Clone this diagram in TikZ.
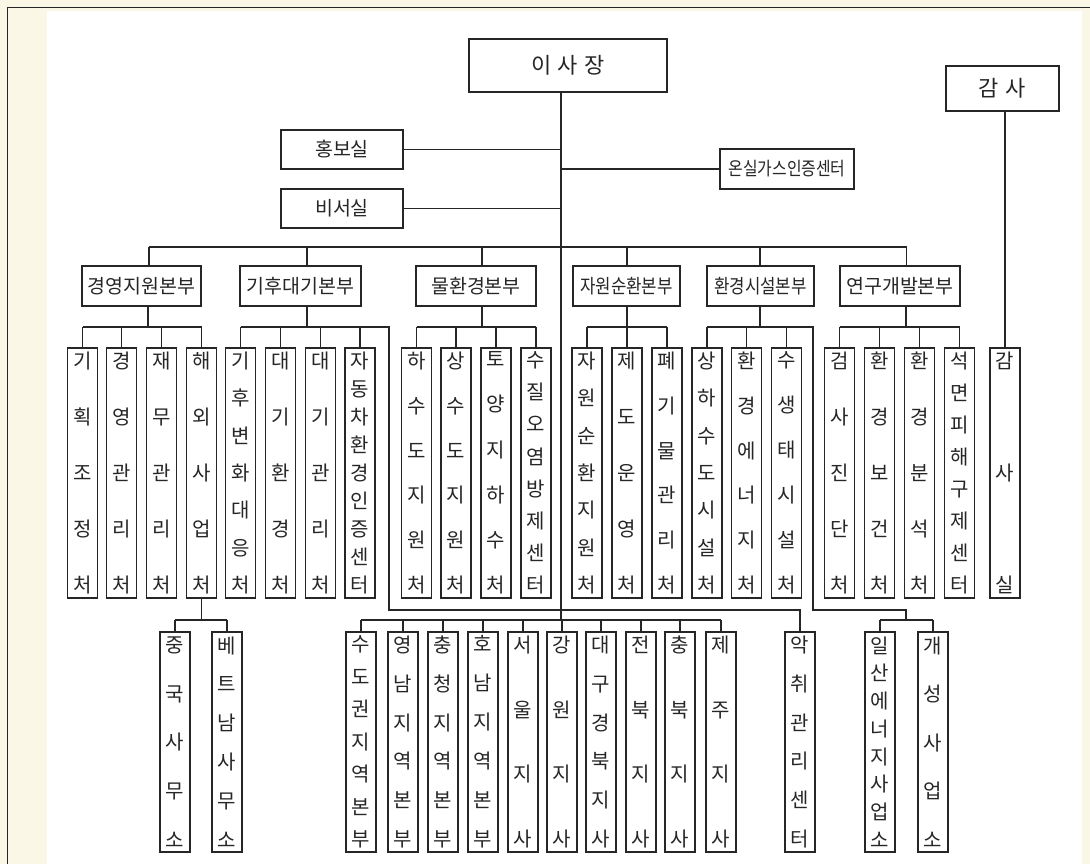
\documentclass[tikz,border=0pt]{standalone}
\usepackage{fontspec}
\setmainfont{Noto Sans CJK KR}
\newfontfamily\narrowkr[FakeStretch=0.86]{Noto Sans CJK KR}
\usetikzlibrary{calc}
\definecolor{cream}{HTML}{FBF7E7}
\definecolor{ink}{HTML}{262626}
\newcommand\kgap{\par\vfill}
\newcommand\vt[2]{\parbox[c][#1][s]{30pt}{\centering #2}}
\begin{document}
\begin{tikzpicture}[x=1pt,y=-1pt,
  box/.style={draw=ink, line width=1.1pt, inner sep=0pt, text=ink, font=\fontsize{19.5}{21}\selectfont},
  hq/.style={box, minimum height=40pt},
  sub/.style={box, minimum width=27pt, minimum height=250pt, font=\fontsize{20}{20}\selectfont},
  low/.style={box, minimum width=27pt, minimum height=220pt, font=\fontsize{20}{20}\selectfont},
  wire/.style={draw=ink, line width=1.1pt}]
\useasboundingbox (0,0) rectangle (1090,864);
\fill[cream] (0,0) rectangle (1090,864);
\fill[white] (47,11.5) rectangle (1082,864);
\draw[ink, line width=1.2pt] (7.3,864) -- (7.3,7.3) -- (1090,7.3);

% top level
\node[box, minimum width=198pt, minimum height=53pt, font=\fontsize{22}{24}\selectfont] (ceo) at (568,65.5) {이\hspace{0.3em}사\hspace{0.3em}장};
\coordinate (mainbot) at (561,620);
\draw[wire] (ceo.south -| mainbot) -- (mainbot);

\node[box, minimum width=122pt, minimum height=39pt] (hongbo) at (342,149.5) {홍보실};
\node[box, minimum width=122pt, minimum height=39pt] (biseo) at (342,208.5) {비서실};
\node[box, minimum width=134pt, minimum height=40pt, font=\narrowkr\fontsize{18.5}{20}\selectfont] (onsil) at (787,169) {온실가스인증센터};
\draw[wire] (hongbo.east) -- (hongbo.east -| mainbot);
\draw[wire] (biseo.east) -- (biseo.east -| mainbot);
\draw[wire] (onsil.west -| mainbot) -- (onsil.west);

\node[box, minimum width=113pt, minimum height=45pt, font=\fontsize{22}{24}\selectfont] (gamsa) at (1002.5,88.5) {감\hspace{0.3em}사};

% headquarters
\node[hq, minimum width=119pt] (gy) at (141.5,286) {경영지원본부};
\node[hq, minimum width=121pt] (gh) at (300.5,286) {기후대기본부};
\node[hq, minimum width=120pt] (mh) at (476,286) {물환경본부};
\node[hq, minimum width=107pt, font=\narrowkr\fontsize{19.5}{21}\selectfont] (jw) at (626.5,286) {자원순환본부};
\node[hq, minimum width=107pt, font=\narrowkr\fontsize{19.5}{21}\selectfont] (hs) at (760.5,286) {환경시설본부};
\node[hq, minimum width=120pt] (yg) at (900,286) {연구개발본부};

\coordinate (busL) at (149,247);
\coordinate (busR) at (906.5,247);
\draw[wire] (busL) -- (busR);
\coordinate (dgy) at (149,247);
\coordinate (dgh) at (307,247);
\coordinate (dmh) at (482,247);
\coordinate (djw) at (627,247);
\coordinate (dhs) at (760,247);
\coordinate (dyg) at (906.5,247);
\foreach \d/\n in {dgy/gy,dgh/gh,dmh/mh,djw/jw,dhs/hs,dyg/yg}
  \draw[wire] (\d) -- (\d |- \n.north);

% second level
\node[sub] (a1) at (82.5,473) {\vt{241pt}{기\kgap 획\kgap 조\kgap 정\kgap 처}};
\node[sub] (a2) at (121.5,473) {\vt{241pt}{경\kgap 영\kgap 관\kgap 리\kgap 처}};
\node[sub] (a3) at (161.5,473) {\vt{241pt}{재\kgap 무\kgap 관\kgap 리\kgap 처}};
\node[sub] (a4) at (201.5,473) {\vt{241pt}{해\kgap 외\kgap 사\kgap 업\kgap 처}};

\node[sub] (b1) at (240.5,473) {\vt{241pt}{기\kgap 후\kgap 변\kgap 화\kgap 대\kgap 응\kgap 처}};
\node[sub] (b2) at (280.5,473) {\vt{241pt}{대\kgap 기\kgap 환\kgap 경\kgap 처}};
\node[sub] (b3) at (320.5,473) {\vt{241pt}{대\kgap 기\kgap 관\kgap 리\kgap 처}};
\node[sub] (b4) at (360,473) {\vt{241pt}{자\kgap 동\kgap 차\kgap 환\kgap 경\kgap 인\kgap 증\kgap 센\kgap 터}};

\node[sub] (c1) at (416.5,473) {\vt{241pt}{하\kgap 수\kgap 도\kgap 지\kgap 원\kgap 처}};
\node[sub] (c2) at (456,473) {\vt{241pt}{상\kgap 수\kgap 도\kgap 지\kgap 원\kgap 처}};
\node[sub] (c3) at (496,473) {\vt{241pt}{토\kgap 양\kgap 지\kgap 하\kgap 수\kgap 처}};
\node[sub] (c4) at (536,473) {\vt{241pt}{수\kgap 질\kgap 오\kgap 염\kgap 방\kgap 제\kgap 센\kgap 터}};

\node[sub] (d1) at (587,473) {\vt{241pt}{자\kgap 원\kgap 순\kgap 환\kgap 지\kgap 원\kgap 처}};
\node[sub] (d2) at (627,473) {\vt{241pt}{제\kgap 도\kgap 운\kgap 영\kgap 처}};
\node[sub] (d3) at (667,473) {\vt{241pt}{폐\kgap 기\kgap 물\kgap 관\kgap 리\kgap 처}};

\node[sub] (e1) at (707,473) {\vt{241pt}{상\kgap 하\kgap 수\kgap 도\kgap 시\kgap 설\kgap 처}};
\node[sub] (e2) at (746.5,473) {\vt{241pt}{환\kgap 경\kgap 에\kgap 너\kgap 지\kgap 처}};
\node[sub] (e3) at (786.5,473) {\vt{241pt}{수\kgap 생\kgap 태\kgap 시\kgap 설\kgap 처}};

\node[sub] (g1) at (839.5,473) {\vt{241pt}{검\kgap 사\kgap 진\kgap 단\kgap 처}};
\node[sub] (g2) at (879.5,473) {\vt{241pt}{환\kgap 경\kgap 보\kgap 건\kgap 처}};
\node[sub] (g3) at (919.5,473) {\vt{241pt}{환\kgap 경\kgap 분\kgap 석\kgap 처}};
\node[sub] (g4) at (959.5,473) {\vt{241pt}{석\kgap 면\kgap 피\kgap 해\kgap 구\kgap 제\kgap 센\kgap 터}};

\node[sub] (gs) at (1005,473) {\vt{241pt}{감\kgap 사\kgap 실}};
\draw[wire] (gs.north |- gamsa.south) -- (gs.north);

% buses of second level
\coordinate (gyb) at (148,327);
\draw[wire] (gyb |- gy.south) -- (gyb);
\draw[wire] (a1.north |- gyb) -- (a4.north |- gyb);
\foreach \n in {a1,a2,a3,a4} \draw[wire] (\n.north |- gyb) -- (\n.north);

\coordinate (ghb) at (307,327);
\coordinate (ghr) at (389,327);
\coordinate (akj) at (389,610);
\draw[wire] (ghb |- gh.south) -- (ghb);
\foreach \n in {b1,b2,b3,b4} \draw[wire] (\n.north |- ghb) -- (\n.north);

\coordinate (mhb) at (482,327);
\draw[wire] (mhb |- mh.south) -- (mhb);
\draw[wire] (c1.north |- mhb) -- (c4.north |- mhb);
\foreach \n in {c1,c2,c3,c4} \draw[wire] (\n.north |- mhb) -- (\n.north);

\coordinate (jwb) at (627,327);
\draw[wire] (jwb |- jw.south) -- (jwb);
\draw[wire] (d1.north |- jwb) -- (d3.north |- jwb);
\foreach \n in {d1,d2,d3} \draw[wire] (\n.north |- jwb) -- (\n.north);

\coordinate (hsb) at (760,327);
\coordinate (hsr) at (813,327);
\coordinate (hsj) at (813,610);
\coordinate (hsk) at (906,610);
\coordinate (hsm) at (906,620);
\draw[wire] (hsb |- hs.south) -- (hsb);
\foreach \n in {e1,e2,e3} \draw[wire] (\n.north |- hsb) -- (\n.north);

\coordinate (ygb) at (906,327);
\draw[wire] (ygb |- yg.south) -- (ygb);
\draw[wire] (g1.north |- ygb) -- (g4.north |- ygb);
\foreach \n in {g1,g2,g3,g4} \draw[wire] (\n.north |- ygb) -- (\n.north);

% third level
\node[low] (o1) at (175,742) {\vt{211pt}{중\kgap 국\kgap 사\kgap 무\kgap 소}};
\node[low] (o2) at (227,742) {\vt{211pt}{베\kgap 트\kgap 남\kgap 사\kgap 무\kgap 소}};

\node[low] (r1) at (361,742) {\vt{211pt}{수\kgap 도\kgap 권\kgap 지\kgap 역\kgap 본\kgap 부}};
\node[low] (r2) at (403,742) {\vt{211pt}{영\kgap 남\kgap 지\kgap 역\kgap 본\kgap 부}};
\node[low] (r3) at (443,742) {\vt{211pt}{충\kgap 청\kgap 지\kgap 역\kgap 본\kgap 부}};
\node[low] (r4) at (483,742) {\vt{211pt}{호\kgap 남\kgap 지\kgap 역\kgap 본\kgap 부}};
\node[low] (r5) at (523,742) {\vt{211pt}{서\kgap 울\kgap 지\kgap 사}};
\node[low] (r6) at (562,742) {\vt{211pt}{강\kgap 원\kgap 지\kgap 사}};
\node[low] (r7) at (601,742) {\vt{211pt}{대\kgap 구\kgap 경\kgap 북\kgap 지\kgap 사}};
\node[low] (r8) at (641,742) {\vt{211pt}{전\kgap 북\kgap 지\kgap 사}};
\node[low] (r9) at (680,742) {\vt{211pt}{충\kgap 북\kgap 지\kgap 사}};
\node[low] (r10) at (721,742) {\vt{211pt}{제\kgap 주\kgap 지\kgap 사}};

\node[low] (ak) at (800,742) {\vt{211pt}{악\kgap 취\kgap 관\kgap 리\kgap 센\kgap 터}};
\node[low] (il) at (880,742) {\vt{211pt}{일\kgap 산\kgap 에\kgap 너\kgap 지\kgap 사\kgap 업\kgap 소}};
\node[low] (gae) at (933,742) {\vt{211pt}{개\kgap 성\kgap 사\kgap 업\kgap 소}};

% long connectors
\draw[wire] (b1.north |- ghb) -- (ghr) -- (akj) -- (akj -| ak.north) -- (ak.north);
\draw[wire] (e1.north |- hsb) -- (hsr) -- (hsj) -- (hsk) -- (hsm);
\draw[wire] (il.north |- hsm) -- (gae.north |- hsm);
\foreach \n in {il,gae} \draw[wire] (\n.north |- hsm) -- (\n.north);

\coordinate (ovj) at (201.5,620);
\draw[wire] (a4.south) -- (ovj);
\draw[wire] (o1.north |- ovj) -- (o2.north |- ovj);
\foreach \n in {o1,o2} \draw[wire] (\n.north |- ovj) -- (\n.north);

\draw[wire] (r1.north |- mainbot) -- (r10.north |- mainbot);
\foreach \n in {r1,r2,r3,r4,r5,r6,r7,r8,r9,r10} \draw[wire] (\n.north |- mainbot) -- (\n.north);
\end{tikzpicture}
\end{document}
